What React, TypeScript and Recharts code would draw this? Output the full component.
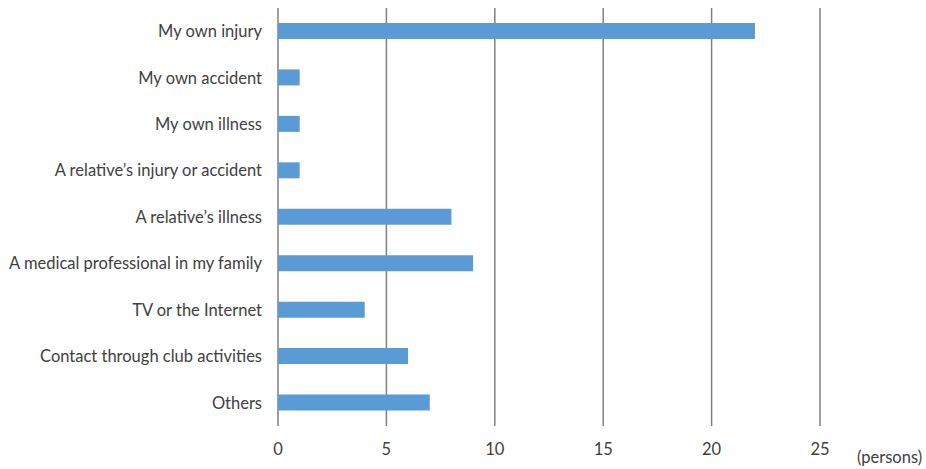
import { Bar, BarChart, CartesianGrid, XAxis, YAxis } from "recharts"

// Reasons (top to bottom) and number of persons
const reasons = [
  "My own injury",
  "My own accident",
  "My own illness",
  "A relative\u2019s injury or accident",
  "A relative\u2019s illness",
  "A medical professional in my family",
  "TV or the Internet",
  "Contact through club activities",
  "Others",
]
const persons = [22, 1, 1, 1, 8, 9, 4, 6, 7]
const xTicks = [0, 5, 10, 15, 20, 25]

const data = reasons.map((name, i) => ({ name, value: persons[i] }))

const font = "Lato, 'Open Sans', sans-serif"

export default function App() {
  return (
    <div style={{ width: 926, height: 469, position: "absolute", left: 0, top: 0 }}>
      <BarChart
        width={926}
        height={469}
        data={data}
        layout="vertical"
        margin={{ top: 8, right: 106, bottom: 0, left: 0 }}
        barCategoryGap="33%"
      >
        <CartesianGrid horizontal={false} stroke="#808080" strokeWidth={1.5} />
        <XAxis
          type="number"
          domain={[0, 25]}
          ticks={xTicks}
          height={43}
          axisLine={false}
          tickLine={false}
          tickSize={0}
          tickMargin={17}
          tick={{ fill: "#404040", fontSize: 16.5, fontFamily: font }}
          label={{
            value: "(persons)",
            position: "right",
            offset: 37,
            dy: 10,
            fill: "#404040",
            fontSize: 16.5,
            fontFamily: font,
          }}
        />
        <YAxis
          dataKey="name"
          type="category"
          width={278}
          axisLine={false}
          tickLine={false}
          tickSize={0}
          tickMargin={16}
          interval={0}
          tick={{ fill: "#404040", fontSize: 16.5, fontFamily: font }}
        />
        <Bar dataKey="value" fill="#5b9bd5" barSize={16} isAnimationActive={false} />
      </BarChart>
    </div>
  )
}
